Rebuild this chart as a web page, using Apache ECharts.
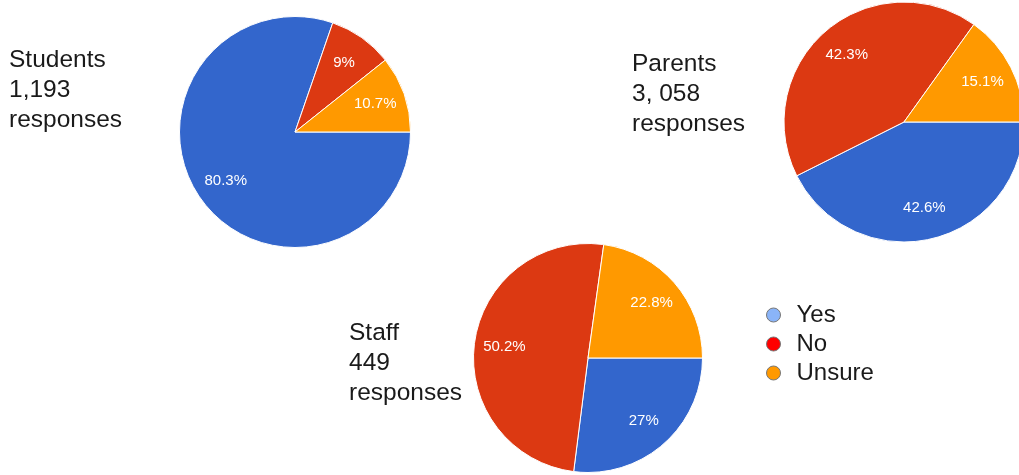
<!DOCTYPE html>
<html>
<head>
<meta charset="utf-8">
<script src="https://cdn.jsdelivr.net/npm/echarts@6/dist/echarts.min.js"></script>
<style>
html,body{margin:0;padding:0;background:#fff;}
#chart{width:1019px;height:475px;}
</style>
</head>
<body>
<div id="chart"></div>
<script>
const categories = ['Yes', 'No', 'Unsure'];
const studentsValues = [80.3, 9, 10.7];
const parentsValues = [42.6, 42.3, 15.1];
const staffValues = [27, 50.2, 22.8];
const groupNames = ['Students', 'Parents', 'Staff'];
const responseCounts = ['1,193', '3, 058', '449'];
const sliceColors = ['#3366cc', '#dc3912', '#ff9900'];
const legendColors = ['#8ab4f8', '#ff0000', '#ff9900'];

const FONT = '"Liberation Sans", Arial, sans-serif';

const pies = [
  { values: studentsValues, center: [295, 132], r: 115.5 },
  { values: parentsValues, center: [904, 122], r: 120 },
  { values: staffValues, center: [588, 358], r: 114.5 }
];
const textPos = [
  { left: 9, top: 45 },
  { left: 632, top: 49 },
  { left: 349, top: 318 }
];

const series = [];
pies.forEach((p, i) => {
  const data = categories.map((c, k) => ({ name: c, value: p.values[k], itemStyle: { color: sliceColors[k] } }));
  series.push({
    type: 'pie',
    center: p.center,
    radius: [0, p.r],
    startAngle: 0,
    clockwise: true,
    avoidLabelOverlap: false,
    silent: true,
    animation: false,
    itemStyle: { borderColor: '#ffffff', borderWidth: 1 },
    label: { show: false },
    labelLine: { show: false },
    data: data
  });
  series.push({
    type: 'pie',
    center: p.center,
    radius: [p.r * 0.42, p.r],
    startAngle: 0,
    clockwise: true,
    avoidLabelOverlap: false,
    silent: true,
    animation: false,
    itemStyle: { color: 'rgba(0,0,0,0)', borderWidth: 0 },
    label: {
      show: true,
      position: 'inside',
      color: '#ffffff',
      fontSize: 15,
      fontFamily: FONT,
      formatter: (prm) => prm.value + '%'
    },
    labelLine: { show: false },
    data: categories.map((c, k) => ({ name: c, value: p.values[k] }))
  });
});

const titles = groupNames.map((g, i) => ({
  text: g + '\n' + responseCounts[i] + '\nresponses',
  left: textPos[i].left,
  top: textPos[i].top,
  padding: 0,
  textStyle: { fontSize: 24.5, fontWeight: 'normal', lineHeight: 30, color: '#1a1a1a', fontFamily: FONT }
}));

const chart = echarts.init(document.getElementById('chart'), null, { renderer: 'canvas' });
chart.setOption({
  backgroundColor: '#ffffff',
  animation: false,
  title: titles,
  legend: {
    orient: 'vertical',
    left: 766,
    top: 303,
    padding: 0,
    itemWidth: 14,
    itemHeight: 14,
    itemGap: 5,
    icon: 'circle',
    selectedMode: false,
    textStyle: { fontSize: 24, lineHeight: 24, color: '#1a1a1a', fontFamily: FONT, padding: [0, 0, 0, 11] },
    data: categories.map((c, k) => ({ name: c, itemStyle: { color: legendColors[k], borderColor: '#777777', borderWidth: 1 } }))
  },
  series: series
});
</script>
</body>
</html>
